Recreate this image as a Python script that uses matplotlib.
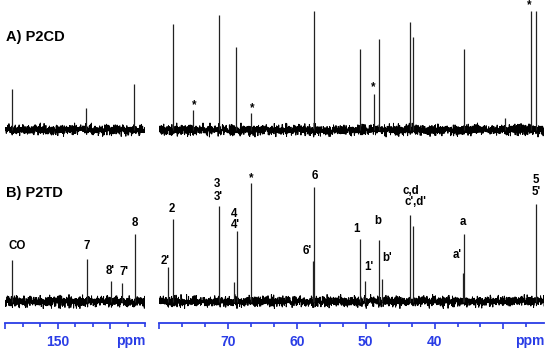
"""
13C NMR spectra of P2CD (top) and P2TD (bottom) on a broken ppm axis.
"""
import matplotlib.pyplot as plt
import numpy as np
from matplotlib.ticker import FixedLocator, FixedFormatter

plt.rcParams['font.family'] = ['Liberation Sans', 'DejaVu Sans']

###############################################################################
# Peak data: chemical shift (ppm) and height (px above the baseline)
a_left_ppm = [158.8, 144.5, 135.4]
a_left_h = [41, 22, 46]
a_right_ppm = [78.0, 75.1, 71.35, 68.8, 66.7, 57.45, 50.9, 48.8, 48.1,
               43.6, 43.2, 35.7, 29.8, 26.0, 25.3]
a_right_h = [106, 20, 115, 83, 17, 119, 81, 36, 91, 108, 93, 81, 12, 119, 119]
a_stars_ppm = [74.9, 66.5, 48.9, 26.3]
a_stars_y = [105, 108, 87, 5]

b_left_ppm = [158.8, 144.4, 139.9, 137.7, 135.25]
b_left_h = [42, 43, 21, 19, 68]
b_right_ppm = [78.7, 78.04, 71.3, 69.2, 68.7, 66.65, 57.7, 57.45, 50.8, 50.1,
               48.05, 47.6, 43.5, 43.15, 35.9, 35.75, 25.2]
b_right_h = [35, 83, 96, 20, 71, 119, 41, 115, 63, 21, 62, 23, 87, 76, 29,
             68, 98]

# Peak assignments for P2TD: text, ppm, vertical centre (px)
b_labels = ["CO", "7", "8'", "7'", "8"]
b_labels_ppm = [157.75, 144.5, 140.05, 137.4, 135.25]
b_labels_y = [246, 246, 271, 272, 223]
b_rlabels = ["2'", "2", "3", "3'", "4", "4'", "*", "6'", "6", "1", "1'", "b",
             "b'", "c,d", "c',d'", "a", "a'", "5", "5'"]
b_rlabels_ppm = [79.15, 78.2, 71.6, 71.5, 69.1, 69.0, 66.65, 58.55, 57.45,
                 51.3, 49.6, 48.3, 46.9, 43.45, 42.8, 35.95, 36.75, 25.3, 25.2]
b_rlabels_y = [261, 209, 184, 197, 214, 225, 178, 251, 176, 229, 267, 221,
               258, 191, 202, 222, 255, 180, 192]

###############################################################################
# Layout (pixel units of a 550 x 351 figure)
W, H = 550, 351
BASE_A, BASE_B = 130, 301.5
AXIS_Y = 322.7
BLUE = '#2a3de6'

fig = plt.figure(figsize=(5.5, 3.51), dpi=100)
ax_l = fig.add_axes([5.3 / W, 1 - AXIS_Y / H, (145 - 5.3) / W, AXIS_Y / H])
ax_r = fig.add_axes([158.6 / W, 1 - AXIS_Y / H, (544 - 158.6) / W, AXIS_Y / H])

# baseline noise texture (fixed seed so the picture is repeatable)
rng = np.random.default_rng(7)


def draw_panel(ax, lo, hi, ppm, h, base, npts):
    x = np.linspace(hi, lo, npts)
    noise = np.clip(rng.normal(0, 2.5, npts), -7, 7)
    ax.plot(x, base + noise, color='black', lw=0.7)
    ax.vlines(ppm, base, base - np.asarray(h), color='#222222', lw=0.9)


draw_panel(ax_l, 133.3, 160.0, a_left_ppm, a_left_h, BASE_A, 1000)
draw_panel(ax_l, 133.3, 160.0, b_left_ppm, b_left_h, BASE_B, 1000)
draw_panel(ax_r, 24.1, 80.1, a_right_ppm, a_right_h, BASE_A, 2700)
draw_panel(ax_r, 24.1, 80.1, b_right_ppm, b_right_h, BASE_B, 2700)

lab = dict(fontsize=8.3, fontweight='bold', ha='center', va='center')
for x, y in zip(a_stars_ppm, a_stars_y):
    ax_r.text(x, y, "*", **lab)
for t, x, y in zip(b_labels, b_labels_ppm, b_labels_y):
    ax_l.text(x, y, t, **lab)
for t, x, y in zip(b_rlabels, b_rlabels_ppm, b_rlabels_y):
    ax_r.text(x, y, t, **lab)

# Axes styling
for ax, lim, majors, labels in [
        (ax_l, (160.0, 133.33), [160, 150, 140], ["", "150", ""]),
        (ax_r, (80.1, 24.1), [80, 70, 60, 50, 40, 30],
         ["", "70", "60", "50", "40", ""])]:
    ax.set_xlim(*lim)
    ax.set_ylim(AXIS_Y, 0)
    for s in ['top', 'left', 'right']:
        ax.spines[s].set_visible(False)
    ax.spines['bottom'].set_color(BLUE)
    ax.spines['bottom'].set_linewidth(1.3)
    ax.set_yticks([])
    ax.xaxis.set_major_locator(FixedLocator(majors))
    ax.xaxis.set_major_formatter(FixedFormatter(labels))
    minors = np.arange(majors[-1] - 10, majors[0] + 0.1, 10 / 3)
    ax.xaxis.set_minor_locator(FixedLocator(minors))
    ax.tick_params(axis='x', which='major', length=4.2, width=1.2,
                   color=BLUE, labelcolor=BLUE, labelsize=10, pad=4.5)
    ax.tick_params(axis='x', which='minor', length=3, width=1.2, color=BLUE)
    for t in ax.get_xticklabels():
        t.set_fontweight('bold')
    ax.patch.set_visible(False)

fig.text(145 / W, 1 - 341 / H, "ppm", color=BLUE, fontsize=10,
         fontweight='bold', ha='right', va='center')
fig.text(544 / W, 1 - 341 / H, "ppm", color=BLUE, fontsize=10,
         fontweight='bold', ha='right', va='center')

fig.text(6.5 / W, 1 - 36.7 / H, "A) P2CD", fontsize=10.5, fontweight='bold',
         ha='left', va='center')
fig.text(6.5 / W, 1 - 193.3 / H, "B) P2TD", fontsize=10.5, fontweight='bold',
         ha='left', va='center')

fig.savefig("out.png", dpi=100)
